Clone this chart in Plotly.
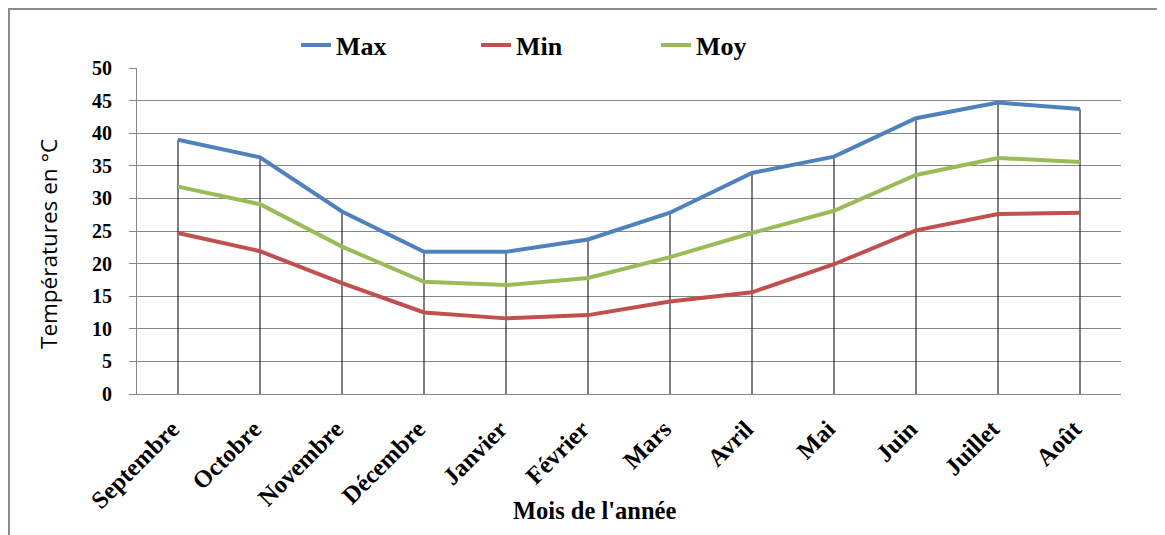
import plotly.graph_objects as go

months = ["Septembre", "Octobre", "Novembre", "Décembre", "Janvier", "Février",
          "Mars", "Avril", "Mai", "Juin", "Juillet", "Août"]
t_max = [39.0, 36.3, 28.0, 21.8, 21.8, 23.7, 27.8, 33.9, 36.4, 42.3, 44.7, 43.7]
t_min = [24.7, 21.9, 17.0, 12.5, 11.6, 12.1, 14.2, 15.6, 19.9, 25.1, 27.6, 27.8]
t_moy = [31.8, 29.1, 22.6, 17.2, 16.7, 17.8, 21.0, 24.7, 28.1, 33.6, 36.2, 35.6]
y_ticks = [0, 5, 10, 15, 20, 25, 30, 35, 40, 45, 50]
grid_vals = [5, 10, 15, 20, 25, 30, 35, 40, 45]

SERIF = "Liberation Serif, Times New Roman, serif"
GRID = "#868686"

W, H = 1165, 535
ML, MR, MT, MB = 129, 52, 60, 149
PW, PH = W - ML - MR, H - MT - MB


def px(xpix):
    return (xpix - ML) / PW


def py(ypix):
    return 1 - (ypix - MT) / PH


# drop lines from the highest series down to the axis
drop_x, drop_y = [], []
for m, v in zip(months, t_max):
    drop_x += [m, m, None]
    drop_y += [v, 0, None]

fig = go.Figure()
fig.add_trace(go.Scatter(x=drop_x, y=drop_y, mode="lines", showlegend=False,
                         line=dict(color="black", width=1), hoverinfo="skip"))
fig.add_trace(go.Scatter(x=months, y=t_max, name="Max", mode="lines",
                         line=dict(color="#4F81BD", width=4)))
fig.add_trace(go.Scatter(x=months, y=t_min, name="Min", mode="lines",
                         line=dict(color="#C0504D", width=4)))
fig.add_trace(go.Scatter(x=months, y=t_moy, name="Moy", mode="lines",
                         line=dict(color="#9BBB59", width=4)))
# invisible trace on the overlaying axis to carry the gridlines
fig.add_trace(go.Scatter(x=months, y=t_moy, yaxis="y2", mode="lines", showlegend=False,
                         line=dict(width=0), opacity=0, hoverinfo="skip"))

fig.update_layout(
    width=W, height=H,
    margin=dict(l=ML, r=MR, t=MT, b=MB),
    paper_bgcolor="white", plot_bgcolor="white",
    font=dict(family=SERIF, color="black"),
    showlegend=True,
    legend=dict(orientation="h", x=px(288), xanchor="left", y=py(37), yanchor="middle",
                font=dict(family=SERIF, size=26, weight="bold"),
                entrywidth=135, bgcolor="rgba(0,0,0,0)"),
    xaxis=dict(type="category", categoryorder="array", categoryarray=months,
               range=[-0.5, 11.5], showgrid=False, showline=True, linecolor=GRID,
               linewidth=1, ticks="", tickangle=-45, ticklabelstandoff=10,
               ticklabelshift=-6,
               tickfont=dict(family=SERIF, size=24.5, weight="bold")),
    yaxis=dict(range=[0, 50], tickvals=y_ticks, showgrid=False, zeroline=False,
               showline=True, linecolor=GRID, linewidth=1,
               ticks="outside", ticklen=7, tickcolor=GRID, ticklabelstandoff=13,
               tickfont=dict(family=SERIF, size=20, weight="bold")),
    yaxis2=dict(range=[0, 50], overlaying="y", tickvals=grid_vals, showgrid=True,
                gridcolor=GRID, gridwidth=1, showticklabels=False, ticks="",
                zeroline=False, showline=False),
    annotations=[
        dict(text="Mois de l'année", xref="paper", yref="paper",
             x=px(586), y=py(502), xanchor="center", yanchor="middle",
             showarrow=False, font=dict(family=SERIF, size=24.5, weight="bold")),
        dict(text="Températures en °C", xref="paper", yref="paper",
             x=px(40), y=py(236), xanchor="center", yanchor="middle",
             textangle=-90, showarrow=False,
             font=dict(family="Open Sans, Noto Sans, sans-serif", size=22.5,
                       color="black")),
    ],
    shapes=[dict(type="rect", xref="paper", yref="paper",
                 x0=px(1), x1=px(W + 40), y0=py(H + 40), y1=py(1),
                 line=dict(color="#8C8C8C", width=2), layer="below")],
)

fig.write_html("out.html")
